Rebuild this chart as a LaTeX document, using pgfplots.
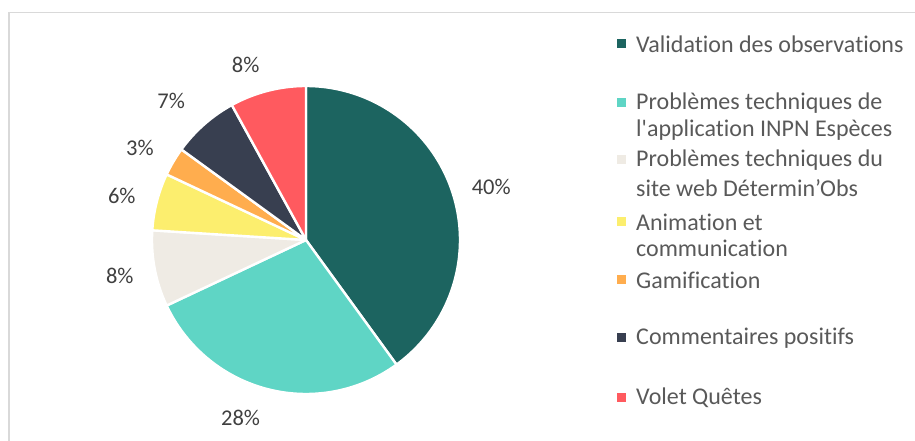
\documentclass[border=0pt]{standalone}
\usepackage{pgfplots}
\pgfplotsset{compat=1.18}
\usepackage{fontspec}
\setmainfont[Ligatures={TeX,NoCommon}]{Carlito}
\definecolor{c1}{HTML}{1C6460}
\definecolor{c2}{HTML}{5FD5C5}
\definecolor{c3}{HTML}{EFEBE4}
\definecolor{c4}{HTML}{FCEE6E}
\definecolor{c5}{HTML}{FFAD4E}
\definecolor{c6}{HTML}{383F50}
\definecolor{c7}{HTML}{FF5A5F}
\definecolor{txt}{HTML}{595959}
\definecolor{lbl}{HTML}{404040}
\tikzset{lab/.style={font=\fontsize{22.5}{26}\selectfont, text=lbl, inner sep=0pt}}
\def\piestart{90}
\newcommand\pieslice[2]{%
  \pgfmathsetmacro\pieend{\piestart-3.6*#1}%
  \edef\doslice{\noexpand\addplot[fill=#2, draw=white, line width=2.4pt, line join=round, domain=\pieend:\piestart, samples=90, variable=\noexpand\t] ({cos(\noexpand\t)},{sin(\noexpand\t)}) -- (axis cs:0,0) -- cycle;}%
  \doslice
  \global\let\piestart\pieend}
\begin{document}
\begin{tikzpicture}
\useasboundingbox (0pt,0pt) rectangle (915pt,441pt);
\draw[color=black!15, line width=1.5pt] (9pt,-20pt) -- (9pt,428.5pt) -- (940pt,428.5pt);
\begin{axis}[
  at={(306pt,201pt)}, anchor=center,
  x=154pt, y=154pt,
  xmin=-1.3, xmax=1.3, ymin=-1.3, ymax=1.3,
  hide axis, clip=false,
]
\pieslice{40}{c1}
\pieslice{28}{c2}
\pieslice{8}{c3}
\pieslice{6}{c4}
\pieslice{3}{c5}
\pieslice{7}{c6}
\pieslice{8}{c7}
\node[lab] at (axis cs:1.203,0.346) {40\%};
\node[lab] at (axis cs:-0.425,-1.157) {28\%};
\node[lab] at (axis cs:-1.209,-0.235) {8\%};
\node[lab] at (axis cs:-1.196,0.288) {6\%};
\node[lab] at (axis cs:-1.078,0.601) {3\%};
\node[lab] at (axis cs:-0.876,0.902) {7\%};
\node[lab] at (axis cs:-0.392,1.137) {8\%};
\end{axis}
\begin{scope}[x=1pt,y=1pt,every node/.style={anchor=west, inner sep=0pt, text=txt, font=\fontsize{24}{28}\selectfont}]
\newcommand\legsq[2]{\fill[#1] (617,441-#2-4.5) rectangle ++(9,9);}
\legsq{c1}{44}\node at (636,441-44) {Validation des observations};
\legsq{c2}{103}\node at (636,441-103) {Problèmes techniques de};
\node at (636,441-130) {l\textquotesingle application INPN Espèces};
\legsq{c3}{160}\node at (636,441-160) {Problèmes techniques du};
\node at (636,441-188) {site web Détermin’Obs};
\legsq{c4}{222}\node at (636,441-222) {Animation et};
\node at (636,441-248) {communication};
\legsq{c5}{280}\node at (636,441-280) {Gamification};
\legsq{c6}{338}\node at (636,441-338) {Commentaires positifs};
\legsq{c7}{398}\node at (636,441-398) {Volet Quêtes};
\end{scope}
\end{tikzpicture}
\end{document}
